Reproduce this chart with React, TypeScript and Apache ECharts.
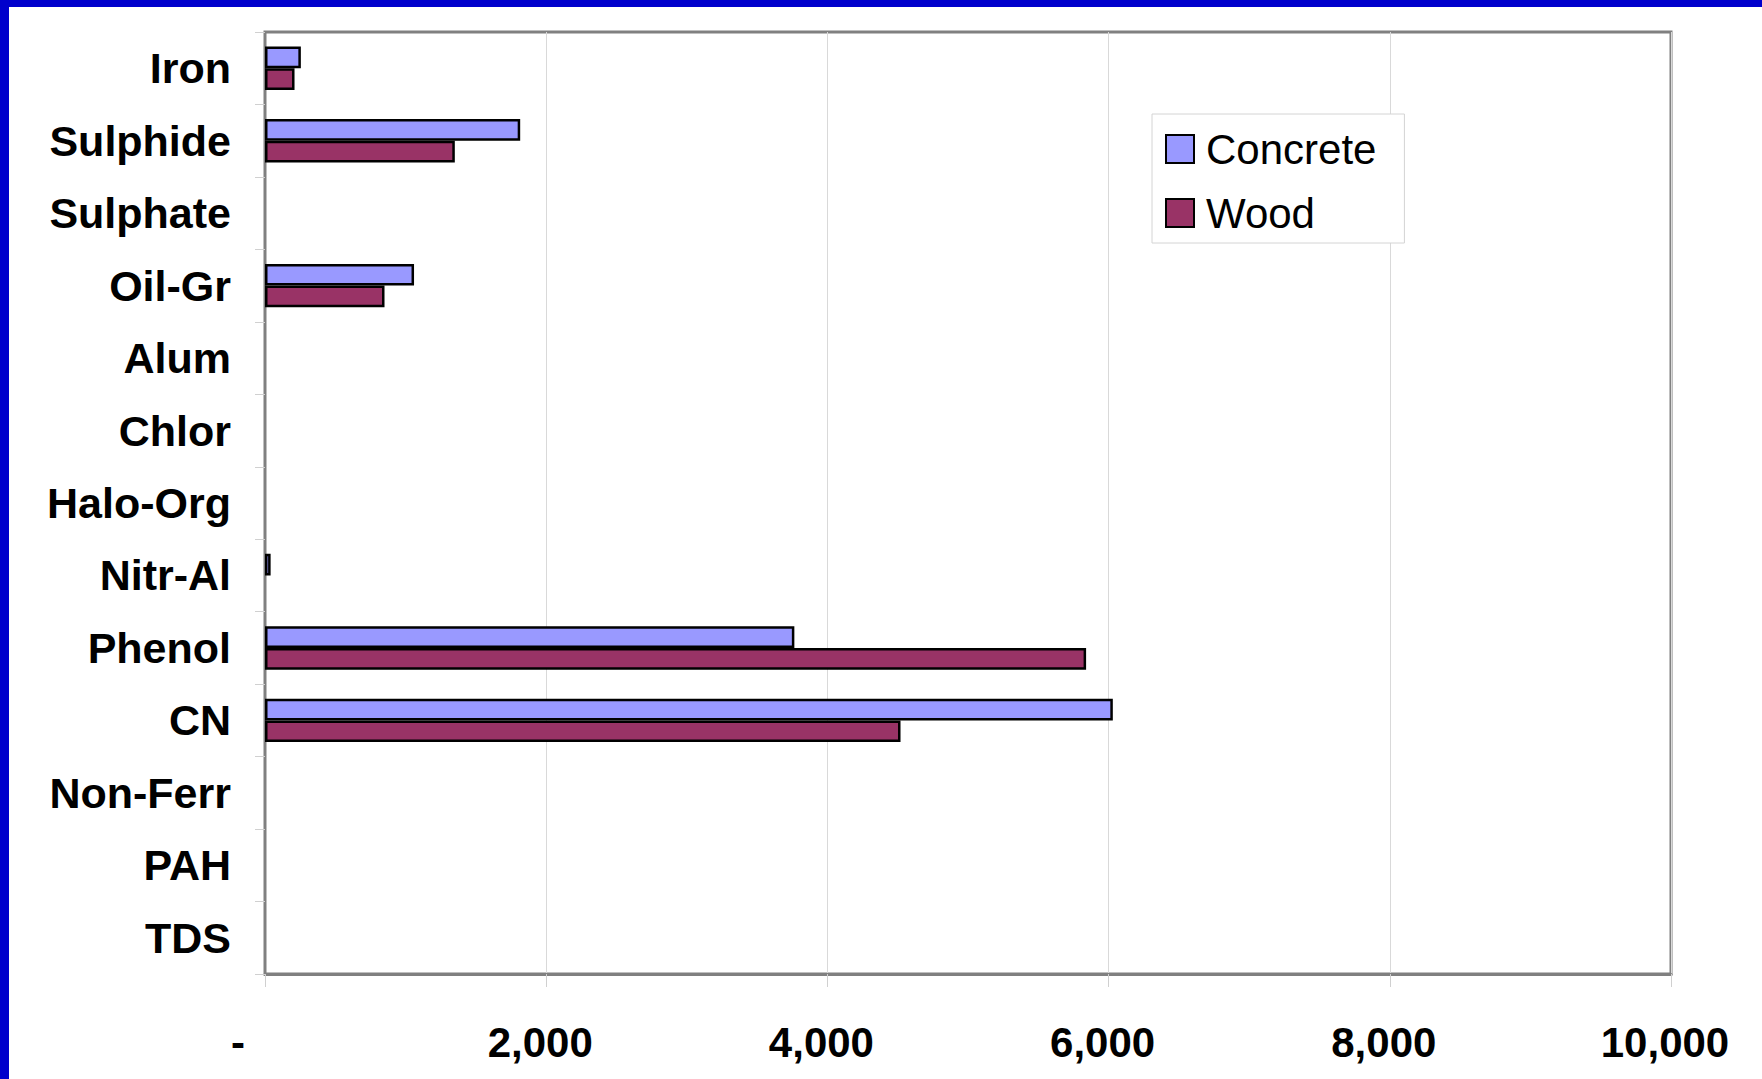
import React, { useEffect, useRef } from "react";
import * as echarts from "echarts";

const categories = [
  "Iron",
  "Sulphide",
  "Sulphate",
  "Oil-Gr",
  "Alum",
  "Chlor",
  "Halo-Org",
  "Nitr-Al",
  "Phenol",
  "CN",
  "Non-Ferr",
  "PAH",
  "TDS",
];
const concreteValues = [255, 1815, 0, 1060, 0, 0, 0, 40, 3765, 6030, 0, 0, 0];
const woodValues = [210, 1350, 0, 850, 0, 0, 0, 0, 5840, 4520, 0, 0, 0];
const seriesNames = ["Concrete", "Wood"];

const FONT = "'Liberation Sans', Arial, sans-serif";

export default function App() {
  const ref = useRef<HTMLDivElement>(null);
  useEffect(() => {
    if (!ref.current) return;
    const chart = echarts.init(ref.current, null, { renderer: "svg" });
    const toData = (arr: number[]) => arr.map((v) => (v === 0 ? null : v));
    chart.setOption({
      animation: false,
      backgroundColor: "#ffffff",
      graphic: [
        { type: "rect", shape: { x: 0, y: 0, width: 1762, height: 7 }, style: { fill: "#0000CC" }, z: 100 },
        { type: "rect", shape: { x: 0, y: 0, width: 9, height: 1079 }, style: { fill: "#0000CC" }, z: 100 },
      ],
      grid: {
        left: 265,
        top: 32,
        right: 91,
        bottom: 105,
        show: true,
        borderColor: "#808080",
        borderWidth: 3,
        backgroundColor: "#ffffff",
        containLabel: false,
      },
      legend: {
        show: true,
        orient: "vertical",
        left: 1152,
        top: 114,
        data: seriesNames,
        icon: "rect",
        itemWidth: 28,
        itemHeight: 28,
        itemGap: 22,
        padding: [14, 28, 9, 13],
        borderColor: "#d4d4d4",
        borderWidth: 1,
        backgroundColor: "#ffffff",
        itemStyle: { borderColor: "#000000", borderWidth: 2 },
        textStyle: {
          fontFamily: FONT,
          fontSize: 42,
          color: "#000000",
          lineHeight: 42,
          padding: [0, 0, 0, 7],
        },
      },
      xAxis: {
        type: "value",
        min: 0,
        max: 10000,
        interval: 2000,
        axisLine: { show: true, lineStyle: { color: "#808080", width: 3 } },
        axisTick: { show: true, length: 13, lineStyle: { color: "#d0d0d0", width: 1 } },
        splitLine: { show: true, lineStyle: { color: "#d9d9d9", width: 1 } },
        axisLabel: {
          margin: 47,
          fontFamily: FONT,
          fontSize: 42,
          fontWeight: "bold",
          color: "#000000",
          formatter: (v: number) =>
            v === 0 ? "{d|-}" : "{n|" + v.toLocaleString("en-US") + "}",
          rich: {
            d: { fontFamily: FONT, fontSize: 42, fontWeight: "bold", color: "#000", padding: [0, 54, 0, 0] },
            n: { fontFamily: FONT, fontSize: 42, fontWeight: "bold", color: "#000", padding: [0, 12, 0, 0] },
          },
        },
      },
      yAxis: {
        type: "category",
        data: categories,
        inverse: true,
        axisLine: { show: true, lineStyle: { color: "#808080", width: 2 } },
        axisTick: { show: true, length: 10, alignWithLabel: false, lineStyle: { color: "#d0d0d0", width: 1 } },
        splitLine: { show: false },
        axisLabel: {
          margin: 34,
          fontFamily: FONT,
          fontSize: 43,
          fontWeight: "bold",
          color: "#000000",
        },
      },
      series: [
        {
          name: seriesNames[0],
          type: "bar",
          data: toData(concreteValues),
          barGap: "0%",
          barCategoryGap: "40%",
          itemStyle: { color: "#9999FF", borderColor: "#000000", borderWidth: 2.5 },
        },
        {
          name: seriesNames[1],
          type: "bar",
          data: toData(woodValues),
          barGap: "0%",
          barCategoryGap: "40%",
          itemStyle: { color: "#993366", borderColor: "#000000", borderWidth: 2.5 },
        },
      ],
    });
    return () => chart.dispose();
  }, []);
  return (
    <div
      ref={ref}
      style={{ position: "absolute", left: 0, top: 0, width: 1762, height: 1079 }}
    />
  );
}
